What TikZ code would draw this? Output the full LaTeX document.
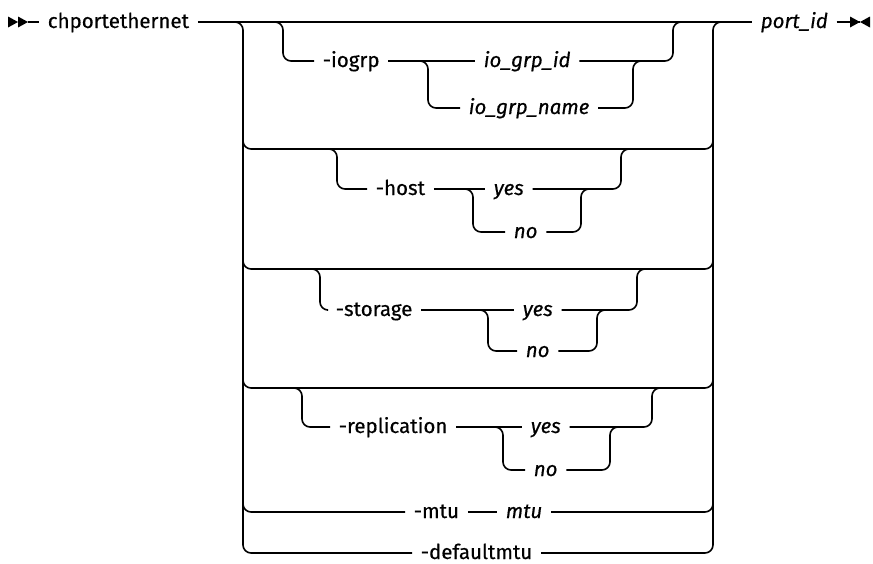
\documentclass[tikz,border=0pt]{standalone}
\usepackage{fontspec}
\setmainfont{Fira Sans}[FakeBold=0.5]
\begin{document}
\begin{tikzpicture}[x=1pt,y=-1pt,
  line width=1.6pt,
  lbl/.style={anchor=west, inner xsep=8pt, inner ysep=0pt, text height=16pt, text depth=4pt,
              font=\fontsize{20.5}{24}\selectfont},
  var/.style={lbl, font=\fontsize{20.5}{24}\selectfont\itshape},
  rail/.style={rounded corners=8pt},
  tip/.style={fill=black, draw=none}]
\useasboundingbox (0,0) rectangle (873,563);

% text nodes
\node[lbl] (cmd) at (39,22) {chportethernet};
\node[var] (port) at (752,22) {port\_id};
\node[lbl] (iogrp) at (314,61) {-iogrp};
\node[var] (iogrpid) at (475,61) {io\_grp\_id};
\node[var] (iogrpname) at (460,108) {io\_grp\_name};
\node[lbl] (host) at (367,189) {-host};
\node[var] (hostyes) at (485,189) {yes};
\node[var] (hostno) at (505,232) {no};
\node[lbl] (storage) at (327,310) {-storage};
\node[var] (stoyes) at (514,310) {yes};
\node[var] (stono) at (517,351) {no};
\node[lbl] (repl) at (330,427) {-replication};
\node[var] (repyes) at (522,427) {yes};
\node[var] (repno) at (525,470) {no};
\node[lbl] (mtuopt) at (405,512) {-mtu};
\node[var] (mtuval) at (497,512) {mtu};
\node[lbl] (dmtu) at (412,553) {-defaultmtu};

% start and end symbols
\coordinate (start) at (28,22);
\coordinate (stop) at (860,22);
\fill[tip] (8,16.5) -- (18,22) -- (8,27.5) -- cycle;
\fill[tip] (18,16.5) -- (start) -- (18,27.5) -- cycle;
\draw (start) -- (cmd.west);
\draw (port.east) -- (stop);
\fill[tip] (850,16.5) -- (stop) -- (850,27.5) -- cycle;
\fill[tip] (870,16.5) -- (stop) -- (870,27.5) -- cycle;

% main line
\draw (cmd.east) -- (port.west);

% outer choice rails
\draw[rail] (225,22) -| (243,553) -- (dmtu.west);
\draw[rail] (dmtu.east) -| (713,22) -- (731,22);
\draw[rail] (243,130) |- (713,149) -- (713,130);
\draw[rail] (243,250) |- (713,269) -- (713,250);
\draw[rail] (243,370) |- (713,388) -- (713,370);
\draw[rail] (243,495) |- (mtuopt.west);
\draw (mtuopt.east) -- (mtuval.west);
\draw[rail] (mtuval.east) -| (713,495);

% -iogrp
\draw[rail] (265,22) -| (283,61) -- (iogrp.west);
\draw (iogrp.east) -- (iogrpid.west);
\draw[rail] (415,61) -| (428,108) -- (iogrpname.west);
\draw[rail] (iogrpid.east) -| (673,22) -- (690,22);
\draw[rail] (iogrpname.east) -| (633,61) -- (648,61);

% -host
\draw[rail] (320,149) -| (337,189) -- (host.west);
\draw (host.east) -- (hostyes.west);
\draw[rail] (460,189) -| (473,232) -- (hostno.west);
\draw[rail] (hostno.east) -| (581,189) -- (595,189);
\draw[rail] (hostyes.east) -| (621,149) -- (635,149);

% -storage
\draw[rail] (303,269) -| (320,310) -- (storage.west);
\draw (storage.east) -- (stoyes.west);
\draw[rail] (475,310) -| (488,351) -- (stono.west);
\draw[rail] (stono.east) -| (597,310) -- (611,310);
\draw[rail] (stoyes.east) -| (637,269) -- (651,269);

% -replication
\draw[rail] (285,388) -| (302,427) -- (repl.west);
\draw (repl.east) -- (repyes.west);
\draw[rail] (490,427) -| (503,470) -- (repno.west);
\draw[rail] (repno.east) -| (610,427) -- (624,427);
\draw[rail] (repyes.east) -| (652,388) -- (666,388);
\end{tikzpicture}
\end{document}
